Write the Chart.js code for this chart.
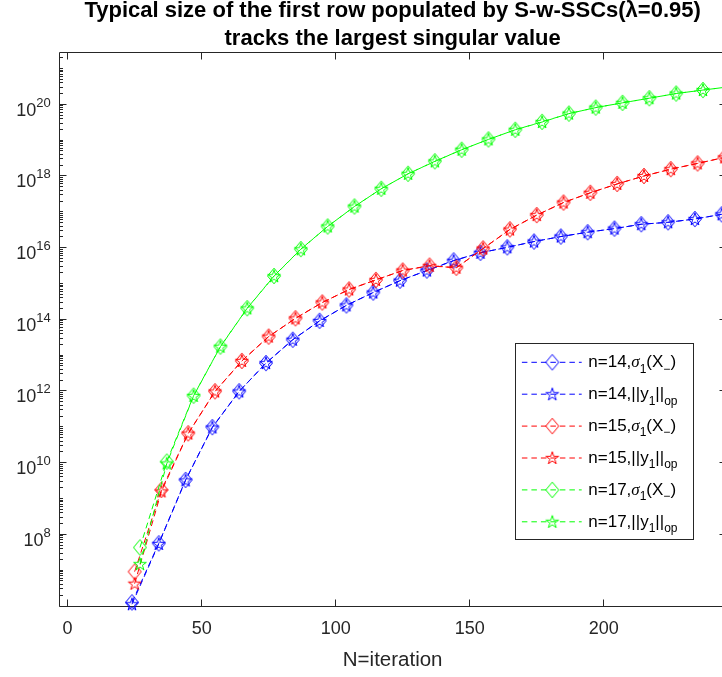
<!DOCTYPE html>
<html>
<head>
<meta charset="utf-8">
<script src="https://cdn.jsdelivr.net/npm/chart.js@4/dist/chart.umd.min.js"></script>
<style>
  html, body { margin: 0; padding: 0; overflow: hidden; background: #fff; }
  canvas { display: block; }
</style>
</head>
<body>
<canvas id="chart" width="740" height="677"></canvas>
<script>
// iterations where each run was sampled
const iterN14 = [24, 34, 44, 54, 64, 74, 84, 94, 104, 114, 124, 134, 144, 154, 164, 174, 184, 194, 204, 214, 224, 234, 244];
const iterN15 = [25, 35, 45, 55, 65, 75, 85, 95, 105, 115, 125, 135, 145, 155, 165, 175, 185, 195, 205, 215, 225, 235, 245];
const iterN17 = [27, 37, 47, 57, 67, 77, 87, 97, 107, 117, 127, 137, 147, 157, 167, 177, 187, 197, 207, 217, 227, 237, 247];

// sigma_1(X_-) and ||y_1||_op
const sigmaN14 = [1.26e6, 5.6e7, 3.3e9, 9.8e10, 9.8e11, 6.0e12, 2.7e13, 9.1e13, 2.45e14, 5.6e14, 1.2e15, 2.3e15, 4.4e15, 7.2e15, 1.02e16, 1.48e16, 2.04e16, 2.7e16, 3.4e16, 4.5e16, 5.1e16, 6.3e16, 8.5e16];
const yopN14   = [1.12e6, 5.4e7, 3.2e9, 9.6e10, 9.7e11, 6.0e12, 2.7e13, 9.0e13, 2.45e14, 5.6e14, 1.2e15, 2.3e15, 4.3e15, 7.2e15, 1.02e16, 1.48e16, 2.04e16, 2.7e16, 3.4e16, 4.5e16, 5.1e16, 6.3e16, 8.5e16];
const sigmaN15 = [9.1e6, 1.74e9, 6.6e10, 9.8e11, 6.9e12, 3.3e13, 1.07e14, 2.95e14, 6.8e14, 1.26e15, 2.3e15, 3.16e15, 2.75e15, 9.5e15, 3.24e16, 8.1e16, 1.82e17, 3.4e17, 6.0e17, 1.0e18, 1.55e18, 2.24e18, 3.3e18];
const yopN15   = [4.2e6, 1.58e9, 6.5e10, 9.7e11, 6.9e12, 3.3e13, 1.06e14, 2.95e14, 6.8e14, 1.26e15, 2.3e15, 3.1e15, 2.75e15, 9.4e15, 3.2e16, 8.1e16, 1.82e17, 3.4e17, 6.0e17, 1.0e18, 1.55e18, 2.24e18, 3.3e18];
const sigmaN17 = [4.3e7, 1.07e10, 7.4e11, 1.74e13, 2.04e14, 1.62e15, 9.1e15, 3.9e16, 1.41e17, 4.4e17, 1.15e18, 2.57e18, 5.4e18, 1.05e19, 1.95e19, 3.24e19, 5.5e19, 8.1e19, 1.1e20, 1.48e20, 2.0e20, 2.5e20, 3.1e20];
const yopN17   = [1.48e7, 9.5e9, 7.3e11, 1.72e13, 2.02e14, 1.6e15, 9.0e15, 3.9e16, 1.4e17, 4.4e17, 1.15e18, 2.55e18, 5.4e18, 1.05e19, 1.95e19, 3.2e19, 5.5e19, 8.1e19, 1.1e20, 1.48e20, 2.0e20, 2.5e20, 3.1e20];

const xTickValues = [0, 50, 100, 150, 200];
const yTickExps = [8, 10, 12, 14, 16, 18, 20];

const FONT = '"Liberation Sans", Arial, Helvetica, sans-serif';
const AXIS = '#262626';

function zip(xs, ys) {
  return xs.map((x, i) => ({x: x, y: ys[i]}));
}

// unfilled matlab-ish markers, drawn once into small canvases
function makeMarker(kind, color) {
  const c = document.createElement('canvas');
  c.width = 18;
  c.height = 18;
  const g = c.getContext('2d');
  g.strokeStyle = color;
  g.lineWidth = 1;
  g.beginPath();
  if (kind === 'd') {
    g.moveTo(9, 1.2);
    g.lineTo(15.5, 9);
    g.lineTo(9, 16.8);
    g.lineTo(2.5, 9);
  } else {
    for (let i = 0; i < 10; i++) {
      const ang = -Math.PI / 2 + i * Math.PI / 5;
      const r = i % 2 ? 2.55 : 6.7;
      const px = 9 + r * Math.cos(ang), py = 9.4 + r * Math.sin(ang);
      if (i) g.lineTo(px, py); else g.moveTo(px, py);
    }
  }
  g.closePath();
  g.stroke();
  return c;
}

const series = [
  {n: 14, kind: 'd', color: '#0000ff', xs: iterN14, ys: sigmaN14},
  {n: 14, kind: 'p', color: '#0000ff', xs: iterN14, ys: yopN14},
  {n: 15, kind: 'd', color: '#ff0000', xs: iterN15, ys: sigmaN15},
  {n: 15, kind: 'p', color: '#ff0000', xs: iterN15, ys: yopN15},
  {n: 17, kind: 'd', color: '#00ff00', xs: iterN17, ys: sigmaN17},
  {n: 17, kind: 'p', color: '#00ff00', xs: iterN17, ys: yopN17}
];
series.forEach(s => { s.marker = makeMarker(s.kind, s.color); });

const datasets = series.map((s, i) => ({
  label: 'n=' + s.n + (s.kind === 'd' ? ' sigma' : ' yop'),
  data: zip(s.xs, s.ys),
  borderColor: s.color,
  borderWidth: 1,
  borderDash: [6, 4],
  pointStyle: s.marker,
  pointRadius: 7,
  pointHoverRadius: 7,
  fill: false,
  tension: 0,
  clip: false,
  order: series.length - i
}));

// draws text pieces, some of them lowered as subscripts
function drawRuns(ctx, x, y, runs) {
  runs.forEach(r => {
    ctx.font = r[1];
    ctx.fillText(r[0], x, y + r[2]);
    x += ctx.measureText(r[0]).width;
  });
}

const matlabAxes = {
  id: 'matlabAxes',
  beforeDatasetsDraw(chart) {
    const {ctx, chartArea: a, scales: {x, y}} = chart;
    const L = Math.floor(a.left) + 0.5, R = Math.floor(a.right) + 0.5;
    const T = Math.floor(a.top) + 0.5, B = Math.floor(a.bottom) + 0.5;
    ctx.save();
    ctx.strokeStyle = AXIS;
    ctx.lineWidth = 1;
    ctx.beginPath();
    ctx.rect(L, T, R - L, B - T);
    xTickValues.forEach(v => {
      const px = Math.floor(x.getPixelForValue(v)) + 0.5;
      ctx.moveTo(px, B); ctx.lineTo(px, B - 7);
      ctx.moveTo(px, T); ctx.lineTo(px, T + 7);
    });
    for (let e = 6; e <= 21; e++) {
      for (let k = 1; k <= 9; k++) {
        const v = k * Math.pow(10, e);
        if (v < y.min || v > y.max) continue;
        const py = Math.floor(y.getPixelForValue(v)) + 0.5;
        const len = (k === 1 && yTickExps.includes(e)) ? 7 : 3.5;
        ctx.moveTo(L, py); ctx.lineTo(L + len, py);
        ctx.moveTo(R, py); ctx.lineTo(R - len, py);
      }
    }
    ctx.stroke();

    // 10^k labels on the log axis
    ctx.fillStyle = AXIS;
    ctx.textAlign = 'left';
    ctx.textBaseline = 'alphabetic';
    yTickExps.forEach(e => {
      const py = y.getPixelForValue(Math.pow(10, e));
      ctx.font = '13px ' + FONT;
      const ew = ctx.measureText(String(e)).width;
      ctx.font = '18px ' + FONT;
      const bw = ctx.measureText('10').width;
      const x0 = a.left - 8.5 - ew - bw;
      ctx.fillText('10', x0, py + 11.5);
      ctx.font = '13px ' + FONT;
      ctx.fillText(String(e), x0 + bw, py + 2.5);
    });
    ctx.restore();
  },
  afterDraw(chart) {
    const ctx = chart.ctx;
    const bx = 515.5, by = 343.5, bw = 178, bh = 196;
    ctx.save();
    ctx.fillStyle = '#fff';
    ctx.fillRect(bx, by, bw, bh);
    ctx.strokeStyle = AXIS;
    ctx.lineWidth = 1;
    ctx.strokeRect(bx, by, bw, bh);
    const base = '17px ' + FONT;
    const sub = '12px ' + FONT;
    const greek = 'italic 17px "Liberation Serif", "DejaVu Serif", serif';
    ctx.textAlign = 'left';
    ctx.textBaseline = 'alphabetic';
    series.forEach((s, i) => {
      const cy = 362.3 + i * 31.9;
      ctx.strokeStyle = s.color;
      ctx.setLineDash([5.5, 4]);
      ctx.lineDashOffset = -0.2;
      ctx.beginPath();
      ctx.moveTo(521.7, cy);
      ctx.lineTo(581.7, cy);
      ctx.stroke();
      ctx.setLineDash([]);
      ctx.drawImage(s.marker, 552.3 - 9, cy - 9);
      ctx.fillStyle = '#000';
      const head = 'n=' + s.n + ',';
      const runs = s.kind === 'd'
        ? [[head, base, 0], ['\u03c3', greek, 0], ['1', sub, 5.5], ['(X', base, 0], ['\u2212', sub, 5.5], [')', base, 0]]
        : [[head + '||y', base, 0], ['1', sub, 5.5], ['||', base, 0], ['op', sub, 5.5]];
      drawRuns(ctx, 588.3, cy + 4.8, runs);
    });
    ctx.restore();
  }
};

new Chart(document.getElementById('chart'), {
  type: 'line',
  data: {datasets: datasets},
  plugins: [matlabAxes],
  options: {
    responsive: false,
    animation: false,
    events: [],
    layout: {padding: {left: 59.3, right: 14, top: 0, bottom: 0}},
    plugins: {
      legend: {display: false},
      tooltip: {enabled: false},
      title: {
        display: true,
        text: ['Typical size of the first row populated by S-w-SSCs(\u03bb=0.95)', 'tracks the largest singular value'],
        color: '#000',
        font: {family: FONT, size: 22, weight: 'bold', lineHeight: 1.26},
        padding: {top: -3.0, bottom: 0.3}
      }
    },
    scales: {
      x: {
        type: 'linear',
        min: -3.1,
        max: 245.6,
        afterBuildTicks: s => { s.ticks = xTickValues.map(v => ({value: v})); },
        afterFit: s => { s.height = 71; },
        grid: {display: false, drawTicks: false},
        border: {display: false},
        ticks: {color: AXIS, font: {family: FONT, size: 18}, padding: 12.6, maxRotation: 0, autoSkip: false},
        title: {display: true, text: 'N=iteration', color: AXIS, font: {family: FONT, size: 20.5}, padding: {top: 0, bottom: 4.6}}
      },
      y: {
        type: 'logarithmic',
        display: false,
        min: 1e6,
        max: 2.75e21
      }
    }
  }
});
</script>
</body>
</html>
